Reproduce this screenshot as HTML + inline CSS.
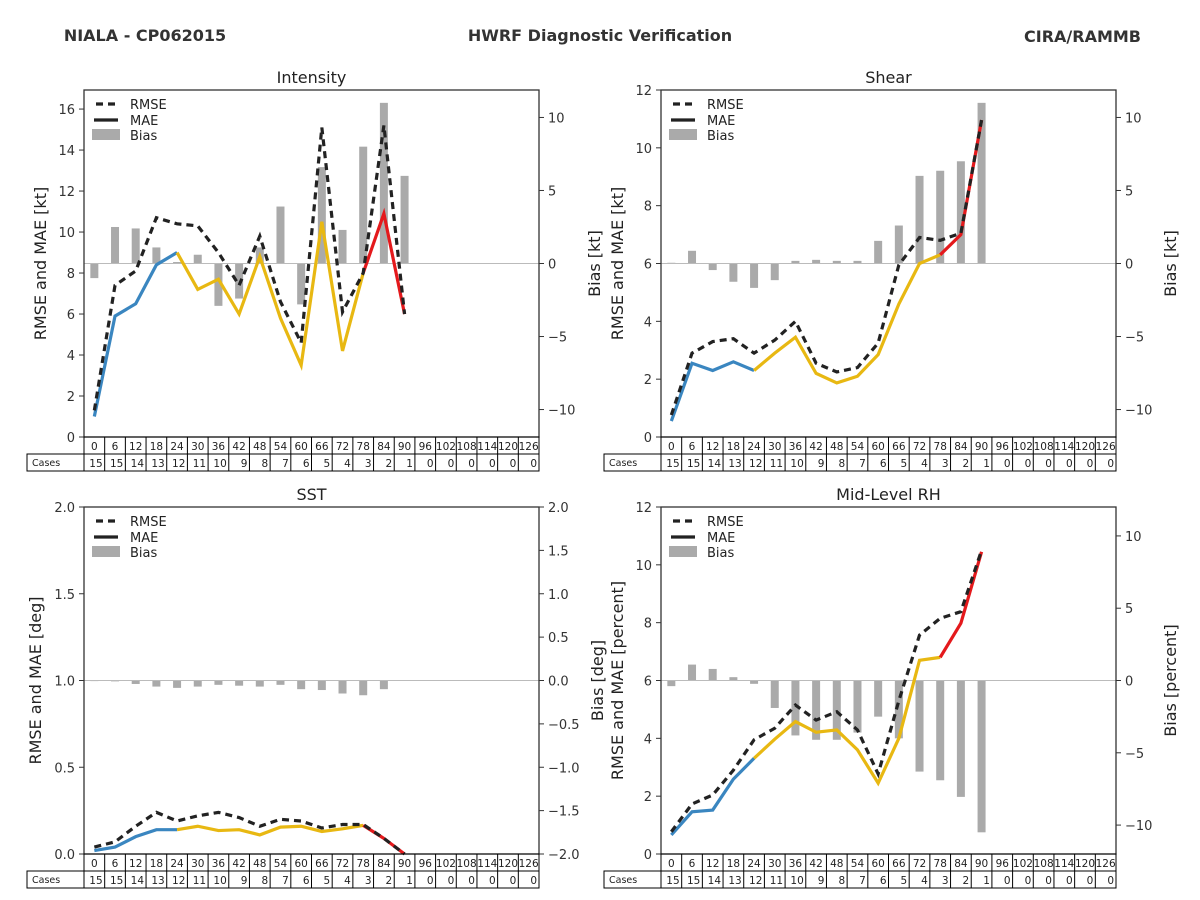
<!DOCTYPE html>
<html><head><meta charset="utf-8">
<style>
body{margin:0;background:#fff;}
svg{display:block;font-family:"DejaVu Sans","Liberation Sans",sans-serif;}
</style></head>
<body>
<svg id="chart" width="1200" height="900" xmlns="http://www.w3.org/2000/svg">
<text x="145" y="41" text-anchor="middle" font-size="16" font-weight="bold" fill="#333">NIALA - CP062015</text>
<text x="600" y="41" text-anchor="middle" font-size="16" font-weight="bold" fill="#333">HWRF Diagnostic Verification</text>
<text x="1141" y="42" text-anchor="end" font-size="16" font-weight="bold" fill="#333">CIRA/RAMMB</text>
</svg>
<script>
const hours = [0,6,12,18,24,30,36,42,48,54,60,66,72,78,84,90,96,102,108,114,120,126];
const cases = [15,15,14,13,12,11,10,9,8,7,6,5,4,3,2,1,0,0,0,0,0,0];

const intRmse = [1.3,7.4,8.1,10.7,10.4,10.3,9.0,7.4,9.8,6.6,4.6,15.1,6.1,8.0,15.2,6.0];
const intMae  = [1.0,5.9,6.5,8.4,9.0,7.2,7.7,6.0,8.8,5.8,3.5,10.5,4.2,8.0,10.9,6.0];
const intBias = [-1.0,2.5,2.4,1.1,0.1,0.6,-2.9,-2.4,1.1,3.9,-2.8,6.6,2.3,8.0,11.0,6.0];

const shrRmse = [0.76,2.9,3.3,3.4,2.9,3.35,4.0,2.55,2.25,2.4,3.25,5.95,6.9,6.8,7.05,10.96];
const shrMae  = [0.55,2.55,2.3,2.6,2.3,2.9,3.45,2.2,1.87,2.1,2.85,4.6,6.0,6.3,7.0,10.96];
const shrBias = [0.05,0.87,-0.45,-1.25,-1.67,-1.14,0.18,0.25,0.18,0.18,1.55,2.6,6.0,6.35,7.0,11.0];

const sstRmse = [0.04,0.07,0.16,0.24,0.19,0.22,0.24,0.21,0.16,0.2,0.19,0.15,0.17,0.17,0.09,0.0];
const sstMae  = [0.02,0.04,0.1,0.14,0.14,0.16,0.135,0.14,0.11,0.155,0.16,0.13,0.145,0.165,0.09,0.0];
const sstBias = [-0.005,-0.01,-0.04,-0.07,-0.085,-0.07,-0.05,-0.06,-0.07,-0.05,-0.1,-0.11,-0.15,-0.17,-0.1,0.005];

const rhRmse = [0.77,1.73,2.04,2.9,3.95,4.35,5.15,4.63,4.92,4.29,2.77,5.3,7.57,8.15,8.38,10.5];
const rhMae  = [0.66,1.46,1.52,2.59,3.31,3.97,4.58,4.21,4.29,3.6,2.45,4.0,6.7,6.8,7.98,10.45];
const rhBias = [-0.39,1.1,0.8,0.23,-0.23,-1.9,-3.8,-4.1,-4.1,-3.6,-2.5,-4.0,-6.3,-6.9,-8.05,-10.5];

const intLeftTicks = [0,2,4,6,8,10,12,14,16];
const intRightTicks = [-10,-5,0,5,10];
const shrLeftTicks = [0,2,4,6,8,10,12];
const shrRightTicks = [-10,-5,0,5,10];
const sstLeftTicks = [0,0.5,1.0,1.5,2.0];
const sstRightTicks = [-2,-1.5,-1,-0.5,0,0.5,1,1.5,2];
const rhLeftTicks = [0,2,4,6,8,10,12];
const rhRightTicks = [-10,-5,0,5,10];

const svg = document.getElementById('chart');
const NS = 'http://www.w3.org/2000/svg';
function mk(tag, attrs, parent){
  const e = document.createElementNS(NS, tag);
  for (const k in attrs) e.setAttribute(k, attrs[k]);
  (parent||svg).appendChild(e);
  return e;
}
const fmtMinus = s => String(s).replace('-', '\u2212');

function panel(p){
  const W = 455, H = 347, x0 = p.x0, y0 = p.y0;
  const g = mk('g', {});
  
  
  const cw = W / hours.length;
  const xs = i => x0 + cw * (i + 0.5);
  const yl = v => y0 + H - (v - p.lmin) / (p.lmax - p.lmin) * H;
  const yr = v => y0 + H - (v - p.rmin) / (p.rmax - p.rmin) * H;

  // bias bars
  p.bias.forEach((b, i) => {
    const yt = yr(Math.max(b, 0)), yb = yr(Math.min(b, 0));
    const r = mk('rect', {x: xs(i) - 4, y: yt, width: 8, height: Math.max(yb - yt, 0.6), fill: '#aaaaaa'}, g);
    
    
  });
  const zl = mk('line', {x1: x0, x2: x0 + W, y1: yr(0), y2: yr(0), stroke: '#bbbbbb', 'stroke-width': 1}, g);
  
  

  // MAE segments
  const segs = [[0, 4, '#3a86c0', 'mae-line-early'], [4, 13, '#e8b812', 'mae-line-mid'], [13, 15, '#e4191c', 'mae-line-late']];
  segs.forEach(s => {
    let pts = [];
    for (let i = s[0]; i <= s[1]; i++) pts.push(xs(i) + ',' + yl(p.mae[i]));
    const pl = mk('polyline', {points: pts.join(' '), fill: 'none', stroke: s[2], 'stroke-width': 3.2, 'stroke-linejoin': 'miter'}, g);
    
    
  });
  const rp = p.rmse.map((v, i) => xs(i) + ',' + yl(v)).join(' ');
  const rl = mk('polyline', {points: rp, fill: 'none', stroke: '#222', 'stroke-width': 3.2, 'stroke-dasharray': '7,5'}, g);
  
  

  // frame
  const fr = mk('rect', {x: x0, y: y0, width: W, height: H, fill: 'none', stroke: '#333', 'stroke-width': 1.3}, g);
  
  

  // left ticks
  p.lticks.forEach(t => {
    const y = yl(t);
    mk('line', {x1: x0 - 5, x2: x0, y1: y, y2: y, stroke: '#333', 'stroke-width': 1}, g);
    const tx = mk('text', {x: x0 - 9, y: y + 5, 'text-anchor': 'end', 'font-size': 13, fill: '#333'}, g);
    tx.textContent = p.lfmt(t);
    
    
  });
  p.rticks.forEach(t => {
    const y = yr(t);
    mk('line', {x1: x0 + W, x2: x0 + W + 5, y1: y, y2: y, stroke: '#333', 'stroke-width': 1}, g);
    const tx = mk('text', {x: x0 + W + 9, y: y + 5, 'text-anchor': 'start', 'font-size': 13, fill: '#333'}, g);
    tx.textContent = fmtMinus(p.rfmt(t));
    
    
  });

  // title
  const tt = mk('text', {x: x0 + W / 2, y: y0 - 7, 'text-anchor': 'middle', 'font-size': 16, fill: '#222'}, g);
  tt.textContent = p.title;
  
  

  // y labels
  p.ylabels.forEach(l => {
    const t = mk('text', {x: l[1], y: y0 + H / 2, 'text-anchor': 'middle', 'font-size': 16, fill: '#222', transform: 'rotate(-90 ' + l[1] + ' ' + (y0 + H / 2) + ')'}, g);
    t.textContent = l[0];
    
    
  });

  // legend
  const lg = mk('g', {}, g);
  
  
  mk('line', {x1: x0 + 12, x2: x0 + 34, y1: y0 + 14, y2: y0 + 14, stroke: '#222', 'stroke-width': 3.2, 'stroke-dasharray': '7,5'}, lg);
  mk('line', {x1: x0 + 10, x2: x0 + 34, y1: y0 + 30, y2: y0 + 30, stroke: '#222', 'stroke-width': 3.2}, lg);
  mk('rect', {x: x0 + 8, y: y0 + 39, width: 28, height: 11, fill: '#aaa'}, lg);
  [['RMSE', 19], ['MAE', 35], ['Bias', 50]].forEach(e => {
    const t = mk('text', {x: x0 + 46, y: y0 + e[1], 'font-size': 13, fill: '#222'}, lg);
    t.textContent = e[0];
    
    
  });

  // table
  const tb = mk('g', {}, g);
  
  
  const ty = y0 + H;
  mk('rect', {x: x0, y: ty, width: W, height: 17, fill: 'none', stroke: '#000', 'stroke-width': 1}, tb);
  mk('rect', {x: x0 - 57, y: ty + 17, width: W + 57, height: 17, fill: 'none', stroke: '#000', 'stroke-width': 1}, tb);
  mk('line', {x1: x0, x2: x0, y1: ty + 17, y2: ty + 34, stroke: '#000'}, tb);
  const cl = mk('text', {x: x0 - 52, y: ty + 29, 'font-size': 9.5, fill: '#222'}, tb);
  cl.textContent = 'Cases';
  
  
  hours.forEach((h, i) => {
    const cx = x0 + cw * i;
    if (i > 0) mk('line', {x1: cx, x2: cx, y1: ty, y2: ty + 34, stroke: '#000'}, tb);
    const ht = mk('text', {x: cx + cw / 2, y: ty + 13, 'text-anchor': 'middle', 'font-size': 10.5, fill: '#222'}, tb);
    ht.textContent = h;
    
    
    const ct = mk('text', {x: cx + cw - 2, y: ty + 30, 'text-anchor': 'end', 'font-size': 10.5, fill: '#222'}, tb);
    ct.textContent = cases[i];
    
    
  });
}

const intFmt = v => String(v);
const dec1 = v => v.toFixed(1);
panel({name: 'intensity', title: 'Intensity', x0: 84, y0: 90, lmin: 0, lmax: 16.93, rmin: -11.88, rmax: 11.88,
  rmse: intRmse, mae: intMae, bias: intBias, lticks: intLeftTicks, rticks: intRightTicks, lfmt: intFmt, rfmt: intFmt,
  ylabels: [['RMSE and MAE [kt]', 46, 'left-y-axis-title'], ['Bias [kt]', 600, 'right-y-axis-title']]});
panel({name: 'shear', title: 'Shear', x0: 661, y0: 90, lmin: 0, lmax: 12, rmin: -11.88, rmax: 11.88,
  rmse: shrRmse, mae: shrMae, bias: shrBias, lticks: shrLeftTicks, rticks: shrRightTicks, lfmt: intFmt, rfmt: intFmt,
  ylabels: [['RMSE and MAE [kt]', 623, 'left-y-axis-title'], ['Bias [kt]', 1176, 'right-y-axis-title']]});
panel({name: 'sst', title: 'SST', x0: 84, y0: 507, lmin: 0, lmax: 2, rmin: -2, rmax: 2,
  rmse: sstRmse, mae: sstMae, bias: sstBias, lticks: sstLeftTicks, rticks: sstRightTicks, lfmt: dec1, rfmt: dec1,
  ylabels: [['RMSE and MAE [deg]', 41, 'left-y-axis-title'], ['Bias [deg]', 603, 'right-y-axis-title']]});
panel({name: 'mid-level-rh', title: 'Mid-Level RH', x0: 661, y0: 507, lmin: 0, lmax: 12, rmin: -12, rmax: 12,
  rmse: rhRmse, mae: rhMae, bias: rhBias, lticks: rhLeftTicks, rticks: rhRightTicks, lfmt: intFmt, rfmt: intFmt,
  ylabels: [['RMSE and MAE [percent]', 623, 'left-y-axis-title'], ['Bias [percent]', 1176, 'right-y-axis-title']]});
</script>
</body></html>
